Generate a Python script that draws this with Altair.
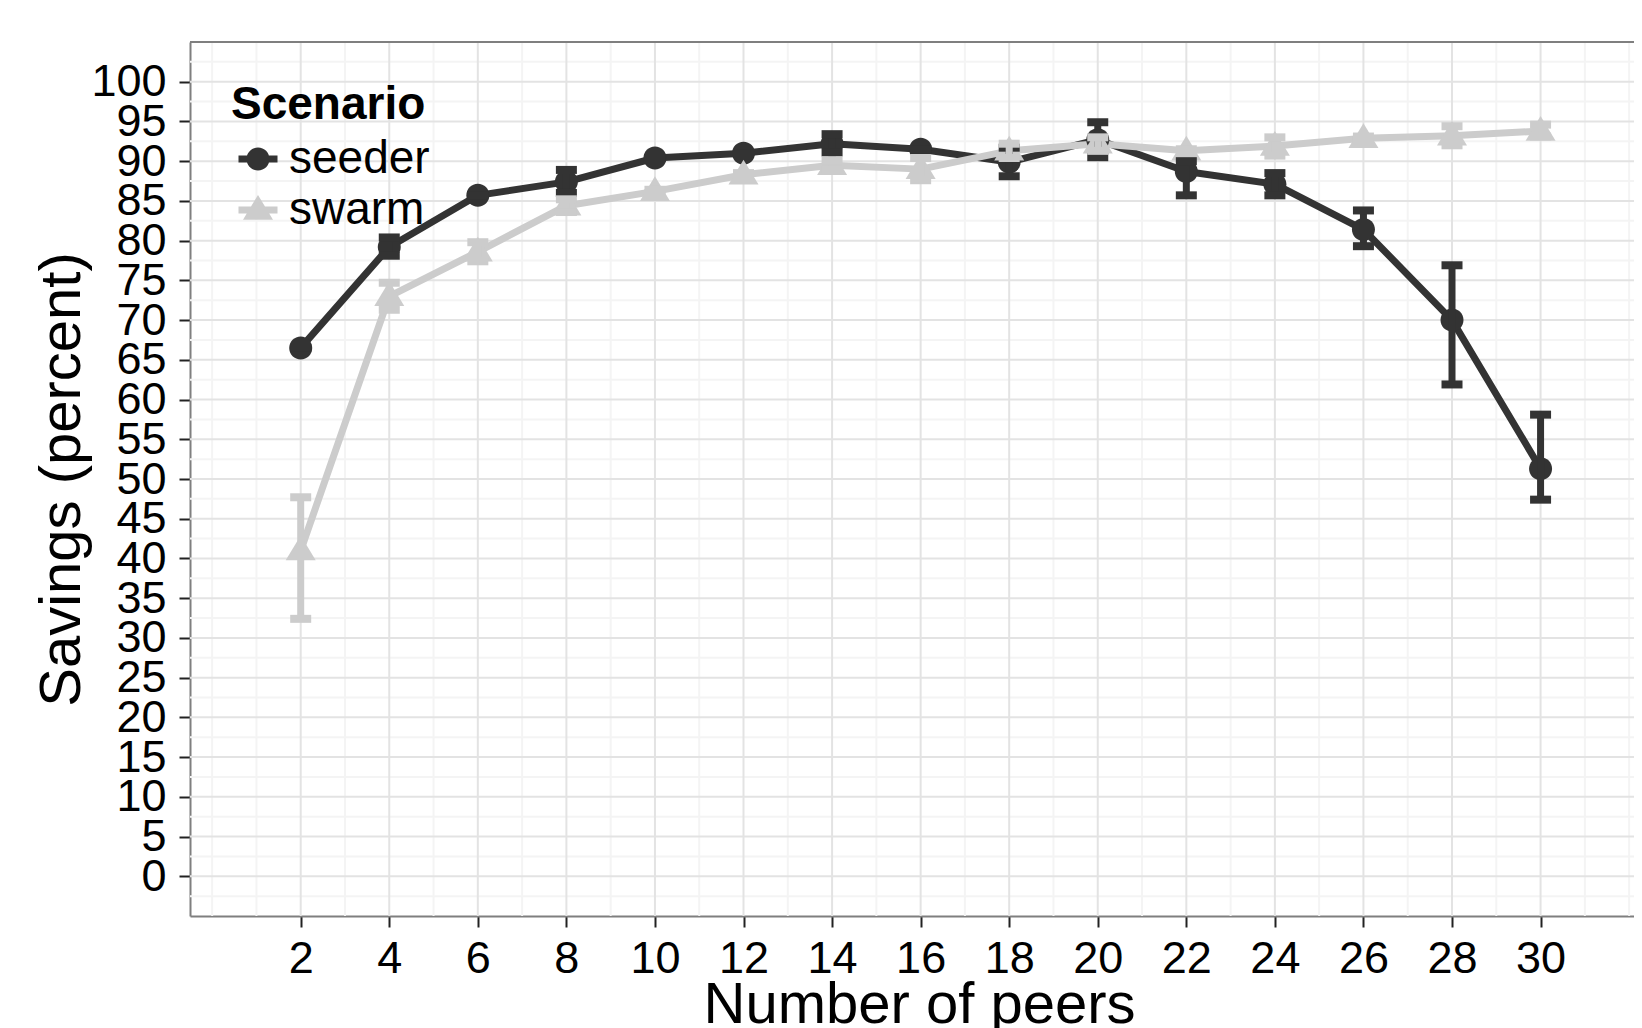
import altair as alt
import pandas as pd

# ---------------- data ----------------
peers = [2, 4, 6, 8, 10, 12, 14, 16, 18, 20, 22, 24, 26, 28, 30]

seeder_mean = [66.5, 79.2, 85.7, 87.4, 90.4, 91.0, 92.2, 91.5, 89.9, 92.7, 88.7, 87.1, 81.4, 70.0, 51.3]
seeder_low  = [66.5, 78.1, 85.7, 86.0, 90.4, 91.0, 91.1, 91.5, 88.1, 90.5, 85.7, 85.7, 79.3, 61.9, 47.4]
seeder_high = [66.5, 80.4, 85.7, 88.9, 90.4, 91.0, 93.4, 91.5, 91.7, 94.9, 90.0, 88.5, 83.8, 76.9, 58.1]

swarm_mean = [41.0, 73.0, 78.6, 84.4, 86.2, 88.3, 89.5, 89.0, 91.3, 92.2, 91.3, 91.9, 92.9, 93.2, 93.8]
swarm_low  = [32.4, 71.3, 77.4, 83.6, 86.0, 88.1, 88.9, 87.6, 90.4, 91.3, 91.1, 90.7, 92.7, 92.0, 93.1]
swarm_high = [47.7, 74.7, 79.8, 85.2, 86.4, 88.5, 90.1, 90.4, 92.2, 93.0, 91.5, 93.0, 93.1, 94.4, 94.6]

scenarios = ["seeder", "swarm"]
y_ticks = list(range(0, 101, 5))
x_minor = [0, 1, 3, 5, 7, 9, 11, 13, 15, 17, 19, 21, 23, 25, 27, 29, 31, 32]
y_minor = [-2.5 + 5 * i for i in range(22)]

X_DOMAIN = [-0.5, 32.11]
Y_DOMAIN = [-5, 105]

rows = []
for name, m, lo, hi in [("seeder", seeder_mean, seeder_low, seeder_high),
                        ("swarm", swarm_mean, swarm_low, swarm_high)]:
    for p, a, b, c in zip(peers, m, lo, hi):
        rows.append({"peers": p, "scenario": name, "savings": a, "low": b, "high": c})
df = pd.DataFrame(rows)

# ---------------- styling ----------------
FONT = "Liberation Sans"
DARK, LIGHT = "#333333", "#cccccc"
W, H = 1444, 874

xs = alt.Scale(domain=X_DOMAIN, nice=False, zero=False)
ys = alt.Scale(domain=Y_DOMAIN, nice=False, zero=False)
color_scale = alt.Scale(domain=scenarios, range=[DARK, LIGHT])

CIRCLE = "M-0.59,0A0.59,0.59,0,1,1,0.59,0A0.59,0.59,0,1,1,-0.59,0Z"
TRI = "M0,-0.77L0.77,0.5L-0.77,0.5Z"
BAR = "M-1,-0.18H1V0.18H-1Z"
shape_scale = alt.Scale(domain=scenarios, range=[CIRCLE, TRI])
legend_shape_scale = alt.Scale(domain=scenarios, range=[BAR + CIRCLE, BAR + TRI])

X_AXIS = alt.Axis(title="Number of peers", values=peers, labelPadding=9,
                  titleX=729, titleY=106, titleAlign="center",
                  titleBaseline="alphabetic", labelOverlap=False, grid=False)
Y_AXIS = alt.Axis(title="Savings (percent)", values=y_ticks, labelPadding=13,
                  titleX=-111, titleY=H / 2, titleAlign="center", titleAngle=-90,
                  titleBaseline="alphabetic", labelOverlap=False, grid=False)

X = alt.X("peers:Q", scale=xs, axis=X_AXIS)
Y = alt.Y("savings:Q", scale=ys, axis=Y_AXIS)

# ---------------- grid ----------------
minor_x = alt.Chart(pd.DataFrame({"peers": x_minor})).mark_rule(
    color="#f4f4f4", strokeWidth=2).encode(x=X)
minor_y = alt.Chart(pd.DataFrame({"savings": y_minor})).mark_rule(
    color="#f4f4f4", strokeWidth=2).encode(y=Y)
major_x = alt.Chart(pd.DataFrame({"peers": peers})).mark_rule(
    color="#e3e3e3", strokeWidth=2).encode(x=X)
major_y = alt.Chart(pd.DataFrame({"savings": y_ticks})).mark_rule(
    color="#e3e3e3", strokeWidth=2).encode(y=Y)
top_border = alt.Chart(pd.DataFrame({"savings": [Y_DOMAIN[1]]})).mark_rule(
    color="#7f7f7f", strokeWidth=2).encode(y=Y)

# ---------------- data marks ----------------
col = alt.Color("scenario:N", scale=color_scale, legend=None)

lines = alt.Chart(df).mark_line(strokeWidth=7, strokeJoin="round", strokeCap="round").encode(
    x=X, y=Y, color=col, order=alt.Order("peers:Q"))

points = alt.Chart(df).mark_point(filled=True, size=1521, opacity=1, strokeWidth=0).encode(
    x=X, y=Y, color=col,
    shape=alt.Shape("scenario:N", scale=shape_scale, legend=None))

err_layers = []
for name in scenarios:
    sub = alt.Chart(df).transform_filter(alt.datum.scenario == name)
    err_layers.append(sub.mark_rule(strokeWidth=7).encode(
        x=X, y=alt.Y("low:Q", scale=ys, axis=Y_AXIS), y2="high:Q", color=col))
    err_layers.append(sub.mark_tick(orient="horizontal", size=21, thickness=8, opacity=1).encode(
        x=X, y=alt.Y("low:Q", scale=ys, axis=Y_AXIS), color=col))
    err_layers.append(sub.mark_tick(orient="horizontal", size=21, thickness=8, opacity=1).encode(
        x=X, y=alt.Y("high:Q", scale=ys, axis=Y_AXIS), color=col))

LEG = alt.Legend(title="Scenario", orient="none", legendX=41, legendY=41, padding=0,
                 titleFont=FONT, titleFontSize=46, titleFontWeight="bold", titleColor="black",
                 titleLimit=500,
                 labelFont=FONT, labelFontSize=46, labelColor="black", labelLimit=400,
                 symbolSize=1521, symbolStrokeWidth=0, symbolOffset=4, labelOffset=8,
                 rowPadding=5, titlePadding=7, symbolOpacity=1)

legend_layer = alt.Chart(df).transform_filter("false").mark_point(
    filled=True, size=1521, opacity=1).encode(
    x=X, y=Y,
    color=alt.Color("scenario:N", scale=color_scale, legend=LEG),
    shape=alt.Shape("scenario:N", scale=legend_shape_scale, legend=LEG))

chart = alt.layer(
    minor_x, minor_y, major_x, major_y, top_border,
    lines, points, *err_layers, legend_layer
).resolve_scale(color="independent", shape="independent").properties(
    width=W, height=H,
    autosize=alt.AutoSizeParams(type="none"),
    padding={"left": 182, "top": 34, "right": 0, "bottom": 1020 - 34 - H},
).configure_view(stroke=None).configure_axis(
    domainColor="#7f7f7f", domainWidth=2,
    tickColor="#222222", tickWidth=2, tickSize=11,
    labelFont=FONT, labelFontSize=45, labelColor="black",
    titleFont=FONT, titleFontSize=58, titleFontWeight="normal", titleColor="black",
)

chart.save("out.html", embed_options={"renderer": "svg", "actions": False})
